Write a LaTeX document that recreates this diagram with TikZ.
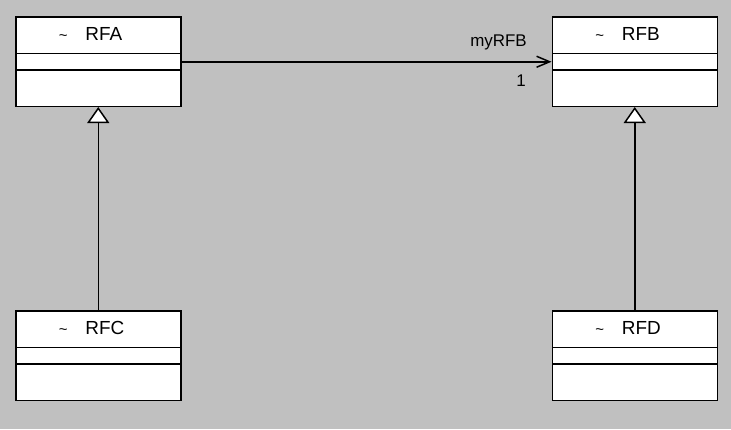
\documentclass[tikz,border=0pt]{standalone}
\usepackage{fontspec}
\setmainfont{Liberation Sans}
\usetikzlibrary{positioning}
\usetikzlibrary{shapes.multipart}
\usetikzlibrary{arrows.meta}
\definecolor{bggray}{RGB}{192,192,192}

\begin{document}
\begin{tikzpicture}[x=1bp, y=1bp,
  umlclass/.style={rectangle split, rectangle split parts=3, draw=black, line width=1.5bp,
    fill=white, inner sep=0pt, text width=165bp, align=left, font=\fontsize{19}{19}\selectfont},
  rolelabel/.style={inner sep=0pt, font=\fontsize{17}{17}\selectfont},
  assoc/.style={line width=1.5bp, -{Straight Barb[length=13bp, width=11bp, line width=1.5bp]}},
  generalize/.style={line width=1.5bp, -{Triangle[open, fill=white, length=16bp, width=22bp, line width=1.5bp]}}]
% Background
\useasboundingbox[fill=bggray] (0,0) rectangle (731,-429);

% Define nodes
% Top nodes
\node[umlclass, anchor=north west] (rfa) at (15,-16)
  {\rule[-12.4bp]{0pt}{35bp}\hspace*{43bp}{\fontsize{15}{15}\selectfont\textasciitilde}\hspace{18bp}RFA
   \nodepart{two}\rule{0pt}{15bp}\nodepart{three}\rule{0pt}{35bp}};
\node[umlclass, right=370bp of rfa] (rfb)
  {\rule[-12.4bp]{0pt}{35bp}\hspace*{43bp}{\fontsize{15}{15}\selectfont\textasciitilde}\hspace{18bp}RFB
   \nodepart{two}\rule{0pt}{15bp}\nodepart{three}\rule{0pt}{35bp}};
% Bottom nodes
\node[umlclass, below=203bp of rfa] (rfc)
  {\rule[-12.4bp]{0pt}{35bp}\hspace*{43bp}{\fontsize{15}{15}\selectfont\textasciitilde}\hspace{18bp}RFC
   \nodepart{two}\rule{0pt}{15bp}\nodepart{three}\rule{0pt}{35bp}};
\node[umlclass, below=203bp of rfb] (rfd)
  {\rule[-12.4bp]{0pt}{35bp}\hspace*{43bp}{\fontsize{15}{15}\selectfont\textasciitilde}\hspace{18bp}RFD
   \nodepart{two}\rule{0pt}{15bp}\nodepart{three}\rule{0pt}{35bp}};

% Edges
\draw[assoc] ([yshift=-8.5bp]rfa.text split east) -- ([yshift=-8.5bp]rfb.text split west)
  node[rolelabel, pos=1, anchor=south east, xshift=-24bp, yshift=10.5bp] (rolename) {myRFB}
  node[rolelabel, pos=1, anchor=north east, xshift=-25bp, yshift=-12bp] (multiplicity) {1};
\draw[generalize] (rfc.north) -- (rfa.south);
\draw[generalize] (rfd.north) -- (rfb.south);
\end{tikzpicture}
\end{document}
